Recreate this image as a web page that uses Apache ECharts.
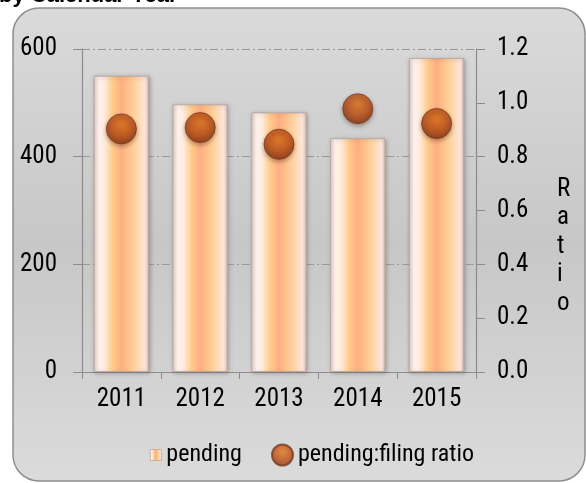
<!DOCTYPE html>
<html>
<head>
<meta charset="utf-8">
<script src="https://cdn.jsdelivr.net/npm/echarts@6/dist/echarts.min.js"></script>
<style>
  html, body { margin: 0; padding: 0; background: #ffffff; }
  #chart { width: 586px; height: 483px; }
</style>
</head>
<body>
<div id="chart"></div>
<script>
// Pending cases per calendar year and their pending:filing ratio
const years = ['2011', '2012', '2013', '2014', '2015'];
const pending = [550, 497, 482, 434, 583];
const ratio = [0.903, 0.908, 0.846, 0.978, 0.923];
const leftTicks = [0, 200, 400, 600];
const rightTicks = [0, 0.2, 0.4, 0.6, 0.8, 1.0, 1.2];

// Pick the narrowest installed sans family and size it so "pending" is ~75px wide
const ctx = document.createElement('canvas').getContext('2d');
function width(font, text) { ctx.font = font; return ctx.measureText(text).width; }
const candidates = ['Liberation Sans Narrow', 'Arial Narrow', 'Roboto Condensed',
  'Noto Sans Condensed', 'Open Sans Condensed', 'DejaVu Sans Condensed'];
const probe = 'pending:filing ratio 2011';
let family = 'DejaVu Sans Condensed';
for (const c of candidates) {
  const a = width('40px "' + c + '", monospace', probe);
  const b = width('40px monospace', probe);
  const d = width('40px "' + c + '", serif', probe);
  const e = width('40px serif', probe);
  if (Math.abs(a - b) > 0.5 && Math.abs(d - e) > 0.5) { family = c; break; }
}
const FONT = '"' + family + '", sans-serif';
const perPx = width('100px ' + FONT, 'pending') / 100;
const FS = Math.max(18, Math.min(26, Math.round(75 / perPx)));
const TICK_FS = FS + 1;

const chart = echarts.init(document.getElementById('chart'), null, { renderer: 'canvas' });

const barFill = new echarts.graphic.LinearGradient(0, 0, 1, 0, [
  { offset: 0.00, color: '#e9d0c8' },
  { offset: 0.09, color: '#fff2ee' },
  { offset: 0.20, color: '#ffeadb' },
  { offset: 0.34, color: '#ffcc8a' },
  { offset: 0.50, color: '#ffae82' },
  { offset: 0.64, color: '#ffc58a' },
  { offset: 0.80, color: '#ffd9ae' },
  { offset: 0.93, color: '#fbe6de' },
  { offset: 1.00, color: '#d8beb4' }
]);

const dotFill = new echarts.graphic.RadialGradient(0.5, 0.36, 0.64, [
  { offset: 0.0, color: '#e4761c' },
  { offset: 0.55, color: '#bf5016' },
  { offset: 1.0, color: '#84320f' }
]);

const axisGray = '#8c8c8c';

const option = {
  animation: false,
  graphic: [
    {
      type: 'rect',
      z: -10,
      shape: { x: 13, y: 8, width: 572, height: 473, r: 26 },
      style: {
        fill: new echarts.graphic.LinearGradient(0, 0, 0, 1, [
          { offset: 0, color: '#dadada' },
          { offset: 0.5, color: '#c7c7c7' },
          { offset: 1, color: '#dbdbdb' }
        ]),
        stroke: '#8e8e8e',
        lineWidth: 1.5
      }
    },
    {
      type: 'text',
      left: -1,
      top: -15,
      style: {
        text: 'by Calendar Year',
        font: 'bold 22px "Liberation Sans", Arial, sans-serif',
        fill: '#000000'
      }
    },
    {
      type: 'text',
      left: 557,
      top: 175,
      style: {
        text: 'R\na\nt\ni\no',
        font: TICK_FS + 'px ' + FONT,
        lineHeight: 28.5,
        align: 'center',
        fill: '#000000'
      }
    }
  ],
  legend: [
    {
      left: 145,
      top: 438,
      itemWidth: 11,
      itemHeight: 11,
      textStyle: { fontFamily: FONT, fontSize: FS, color: '#000000' },
      data: [{ name: 'pending', icon: 'rect', itemStyle: { color: barFill, borderColor: '#b09a90', borderWidth: 0.6 } }]
    },
    {
      left: 266,
      top: 438,
      itemWidth: 21,
      itemHeight: 21,
      textStyle: { fontFamily: FONT, fontSize: FS, color: '#000000' },
      data: [{ name: 'pending:filing ratio', icon: 'circle', itemStyle: { color: dotFill } }]
    }
  ],
  grid: { left: 82, right: 110, top: 49, bottom: 111 },
  xAxis: {
    type: 'category',
    data: years,
    axisLine: { lineStyle: { color: axisGray, width: 1.2 } },
    axisTick: { show: true, alignWithLabel: false, length: 7, lineStyle: { color: axisGray } },
    axisLabel: { interval: 0, fontFamily: FONT, fontSize: TICK_FS, color: '#000000', margin: 15 }
  },
  yAxis: [
    {
      type: 'value',
      min: 0,
      max: 600,
      interval: 200,
      axisLine: { show: true, lineStyle: { color: axisGray, width: 1.2 } },
      axisTick: { show: true, length: 9, lineStyle: { color: axisGray } },
      axisLabel: { fontFamily: FONT, fontSize: TICK_FS, color: '#000000', margin: 25,
        formatter: v => leftTicks.includes(v) ? String(v) : '' },
      splitLine: { show: true, lineStyle: { color: '#9a9a9a', width: 1, type: [8, 3, 2, 3] } }
    },
    {
      type: 'value',
      min: 0,
      max: 1.2,
      interval: 0.2,
      position: 'right',
      axisLine: { show: true, lineStyle: { color: axisGray, width: 1.2 } },
      axisTick: { show: true, length: 9, lineStyle: { color: axisGray } },
      axisLabel: { fontFamily: FONT, fontSize: TICK_FS, color: '#000000', margin: 21,
        formatter: v => {
          const t = rightTicks.find(r => Math.abs(r - v) < 1e-6);
          return t === undefined ? '' : t.toFixed(1);
        } },
      splitLine: { show: false }
    }
  ],
  series: [
    {
      name: 'pending',
      type: 'bar',
      yAxisIndex: 0,
      data: pending,
      barWidth: '70%',
      itemStyle: {
        color: barFill,
        borderColor: '#b5a39c',
        borderWidth: 0.8,
        shadowColor: 'rgba(90,90,90,0.45)',
        shadowBlur: 4,
        shadowOffsetX: 1,
        shadowOffsetY: 1
      },
      z: 2
    },
    {
      name: 'pending:filing ratio',
      type: 'scatter',
      yAxisIndex: 1,
      data: ratio,
      symbol: 'circle',
      symbolSize: 30,
      itemStyle: {
        color: dotFill,
        borderColor: '#7c3a22',
        borderWidth: 1,
        shadowColor: 'rgba(60,30,10,0.45)',
        shadowBlur: 4,
        shadowOffsetY: 2
      },
      z: 3
    }
  ]
};

chart.setOption(option);
</script>
</body>
</html>
